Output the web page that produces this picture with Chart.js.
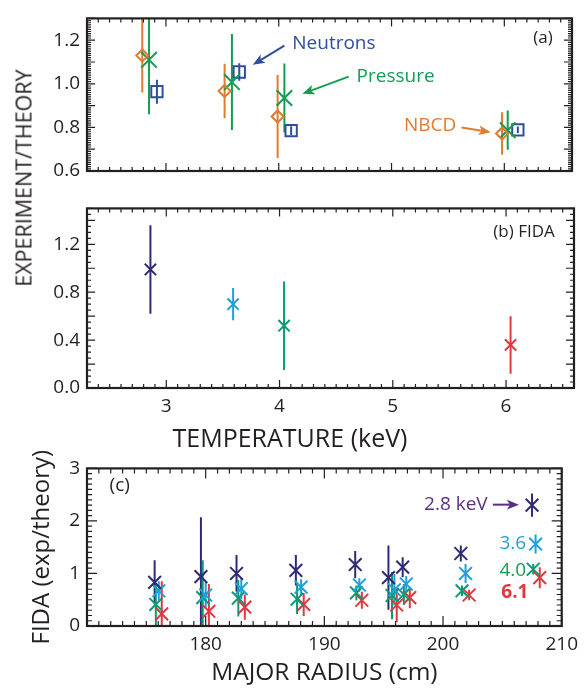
<!DOCTYPE html>
<html>
<head>
<meta charset="utf-8">
<script src="https://cdn.jsdelivr.net/npm/chart.js@4.4.0/dist/chart.umd.min.js"></script>
<style>
  html, body { margin: 0; padding: 0; background: #fff; }
  #wrap { position: relative; width: 585px; height: 692px; font-family: 'Open Sans', sans-serif; }
  .panel { position: absolute; left: 0; width: 585px; }
  #boxA { top: 0; height: 190px; }
  #boxB { top: 190px; height: 260px; }
  #boxC { top: 450px; height: 242px; }
  .title { position: absolute; color: #231f20; white-space: nowrap; }
  #ytitle {
    left: 23px; top: 178px;
    transform: translate(-50%, -50%) rotate(-90deg);
    font-size: 21.5px;
  }
  #xtitle {
    left: 290px; top: 437px;
    transform: translate(-50%, -50%);
    font-size: 25px;
  }
</style>
</head>
<body>
<div id="wrap">
  <div class="panel" id="boxA"><canvas id="chartA"></canvas></div>
  <div class="panel" id="boxB"><canvas id="chartB"></canvas></div>
  <div class="panel" id="boxC"><canvas id="chartC"></canvas></div>
  <div class="title" id="ytitle">EXPERIMENT/THEORY</div>
  <div class="title" id="xtitle">TEMPERATURE (keV)</div>
</div>
<script>
'use strict';

/*********** DATA ***********/
// (a) experiment/theory against central temperature (keV)
var tempNbcd = [2.79, 3.52, 3.99, 5.98];
var ratioNbcd = [1.13, 0.967, 0.85, 0.772];
var errNbcd = [0.17, 0.125, 0.19, 0.097];

var tempPressure = [2.85, 3.585, 4.05, 6.03];
var ratioPressure = [1.11, 1.008, 0.935, 0.787];
var errPressure = [0.25, 0.22, 0.158, 0.09];

var tempNeutrons = [2.92, 3.65, 4.11, 6.12];
var ratioNeutrons = [0.964, 1.054, 0.785, 0.789];
var errNeutrons = [0.055, 0.04, 0.02, 0.015];

// (b) FIDA
var fidaTemp = [2.86, 3.59, 4.04, 6.04];
var fidaRatio = [0.99, 0.70, 0.52, 0.36];
var fidaErr = [0.37, 0.135, 0.37, 0.24];

// (c) FIDA against major radius (cm), one series per temperature
var radius28 = [175.7, 179.6, 182.6, 187.6, 192.6, 195.4, 196.6, 201.5, 207.5];
var fida28 = [0.83, 0.94, 1.0, 1.06, 1.17, 0.92, 1.12, 1.38, 2.3];
var err28 = [0.42, 1.13, 0.35, 0.29, 0.26, 0.61, 0.19, 0.15, 0.22];

var radius36 = [176.05, 180.0, 183.0, 188.04, 192.95, 195.9, 196.9, 201.9, 207.8];
var fida36 = [0.67, 0.59, 0.71, 0.74, 0.78, 0.69, 0.8, 1.0, 1.56];
var err36 = [0.18, 0.25, 0.2, 0.15, 0.13, 0.3, 0.15, 0.18, 0.18];

var radius40 = [175.8, 179.75, 182.75, 187.7, 192.7, 195.7, 196.7, 201.6, 207.6];
var fida40 = [0.41, 0.54, 0.53, 0.51, 0.63, 0.58, 0.6, 0.67, 1.08];
var err40 = [0.4, 0.71, 0.35, 0.28, 0.14, 0.45, 0.2, 0.1, 0.1];

var radius61 = [176.3, 180.27, 183.3, 188.26, 193.16, 196.1, 197.2, 202.2, 208.15];
var fida61 = [0.23, 0.28, 0.36, 0.41, 0.49, 0.40, 0.54, 0.59, 0.92];
var err61 = [0.62, 0.52, 0.24, 0.22, 0.16, 0.33, 0.2, 0.1, 0.2];

// tick labels
var tempTicks = [3, 4, 5, 6];
var ratioTicksA = [0.6, 0.8, 1.0, 1.2];
var ratioTicksB = [0.0, 0.4, 0.8, 1.2];
var radiusTicks = [180, 190, 200, 210];
var fidaTicks = [0, 1, 2, 3];

/*********** STYLE ***********/
var ink = '#231f20';
var orange = '#e07b32';
var green = '#119e52';
var blue = '#2f4f9b';
var navy = '#2f2a78';
var cyan = '#1ea0dc';
var teal = '#0b9a72';
var red = '#e2373f';
var purple = '#5c2e83';
var fontFamily = "'Open Sans', sans-serif";

Chart.defaults.font.family = fontFamily;
Chart.defaults.color = ink;

/*********** PLUGINS ***********/
// vertical error bars, read from dataset.errorBars
var errorBarPlugin = {
  id: 'errorBars',
  beforeDatasetsDraw: function(chart) {
    var ctx = chart.ctx;
    var area = chart.chartArea;
    var xs = chart.scales.x;
    var ys = chart.scales.y;
    ctx.save();
    ctx.beginPath();
    ctx.rect(area.left, area.top, area.right - area.left, area.bottom - area.top);
    ctx.clip();
    chart.data.datasets.forEach(function(ds) {
      if (!ds.errorBars) {
        return;
      }
      ctx.strokeStyle = ds.borderColor;
      ctx.lineWidth = 2;
      ds.data.forEach(function(p, i) {
        var px = xs.getPixelForValue(p.x);
        ctx.beginPath();
        ctx.moveTo(px, ys.getPixelForValue(p.y - ds.errorBars[i]));
        ctx.lineTo(px, ys.getPixelForValue(p.y + ds.errorBars[i]));
        ctx.stroke();
      });
    });
    ctx.restore();
  }
};

// box frame with inward ticks on all four sides
var framePlugin = {
  id: 'frameTicks',
  afterDraw: function(chart, args, opts) {
    var ctx = chart.ctx;
    var a = chart.chartArea;
    var xs = chart.scales.x;
    var ys = chart.scales.y;
    ctx.save();
    ctx.strokeStyle = ink;
    ctx.lineWidth = 1.2;
    eachTick(xs.min, xs.max, opts.xMinor, opts.xMajor, function(v, major) {
      var px = xs.getPixelForValue(v);
      var len = major ? opts.majorLen : opts.minorLen;
      ctx.beginPath();
      ctx.moveTo(px, a.bottom);
      ctx.lineTo(px, a.bottom - len);
      ctx.moveTo(px, a.top);
      ctx.lineTo(px, a.top + len);
      ctx.stroke();
    });
    eachTick(ys.min, ys.max, opts.yMinor, opts.yMajor, function(v, major) {
      var py = ys.getPixelForValue(v);
      var len = major ? opts.majorLen : opts.minorLen;
      ctx.beginPath();
      ctx.moveTo(a.left, py);
      ctx.lineTo(a.left + len, py);
      ctx.moveTo(a.right, py);
      ctx.lineTo(a.right - len, py);
      ctx.stroke();
    });
    ctx.lineWidth = 2.2;
    ctx.strokeRect(a.left, a.top, a.right - a.left, a.bottom - a.top);
    ctx.restore();
  }
};

function eachTick(min, max, minor, major, fn) {
  var start = Math.ceil(min / minor - 1e-6);
  for (var i = start; i * minor <= max + 1e-9; i++) {
    var v = i * minor;
    var r = v / major;
    fn(v, Math.abs(r - Math.round(r)) < 1e-6);
  }
}

// text labels and arrows placed in data units
var notesPlugin = {
  id: 'notes',
  afterDraw: function(chart, args, opts) {
    var ctx = chart.ctx;
    var xs = chart.scales.x;
    var ys = chart.scales.y;
    ctx.save();
    (opts.arrows || []).forEach(function(ar) {
      var x1 = xs.getPixelForValue(ar.x1);
      var y1 = ys.getPixelForValue(ar.y1);
      var x2 = xs.getPixelForValue(ar.x2);
      var y2 = ys.getPixelForValue(ar.y2);
      var ang = Math.atan2(y2 - y1, x2 - x1);
      var head = 13;
      ctx.strokeStyle = ar.color;
      ctx.fillStyle = ar.color;
      ctx.lineWidth = 2;
      ctx.beginPath();
      ctx.moveTo(x1, y1);
      ctx.lineTo(x2 - Math.cos(ang) * head * 0.7, y2 - Math.sin(ang) * head * 0.7);
      ctx.stroke();
      ctx.beginPath();
      ctx.moveTo(x2, y2);
      ctx.lineTo(x2 - head * Math.cos(ang - 0.38), y2 - head * Math.sin(ang - 0.38));
      ctx.lineTo(x2 - head * 0.7 * Math.cos(ang), y2 - head * 0.7 * Math.sin(ang));
      ctx.lineTo(x2 - head * Math.cos(ang + 0.38), y2 - head * Math.sin(ang + 0.38));
      ctx.closePath();
      ctx.fill();
    });
    (opts.labels || []).forEach(function(lb) {
      ctx.fillStyle = lb.color;
      ctx.font = (lb.bold ? 'bold ' : '') + lb.size + 'px ' + fontFamily;
      ctx.textAlign = lb.align;
      ctx.textBaseline = 'middle';
      ctx.fillText(lb.text, xs.getPixelForValue(lb.x), ys.getPixelForValue(lb.y));
    });
    ctx.restore();
  }
};

/*********** HELPERS ***********/
function points(xs, ys) {
  return xs.map(function(x, i) {
    return {x: x, y: ys[i]};
  });
}

function series(label, xs, ys, errs, color, style, size) {
  return {
    label: label,
    data: points(xs, ys),
    errorBars: errs,
    borderColor: color,
    backgroundColor: 'rgba(0,0,0,0)',
    pointStyle: style,
    pointRadius: size,
    pointBorderWidth: 2,
    pointBorderColor: color,
    pointBackgroundColor: 'rgba(0,0,0,0)',
    pointHoverRadius: size
  };
}

function fixedTicks(list) {
  return function(scale) {
    scale.ticks = list.map(function(v) {
      return {value: v};
    });
  };
}

function axis(min, max, tickList, decimals, fitSize, showTicks) {
  return {
    type: 'linear',
    min: min,
    max: max,
    afterBuildTicks: fixedTicks(tickList),
    afterFit: function(scale) {
      if (scale.isHorizontal()) {
        scale.height = fitSize;
      } else {
        scale.width = fitSize;
      }
    },
    grid: {display: false, drawTicks: false},
    border: {display: false},
    ticks: {
      display: showTicks,
      padding: 7,
      maxRotation: 0,
      autoSkip: false,
      font: {size: 19},
      color: ink,
      callback: function(v) {
        return Number(v).toFixed(decimals);
      }
    }
  };
}

function makeChart(id, datasets, scales, padding, frame, notes) {
  return new Chart(document.getElementById(id).getContext('2d'), {
    type: 'scatter',
    data: {datasets: datasets},
    options: {
      responsive: true,
      maintainAspectRatio: false,
      animation: false,
      layout: {padding: padding},
      scales: scales,
      plugins: {
        legend: {display: false},
        tooltip: {enabled: false},
        frameTicks: frame,
        notes: notes
      }
    },
    plugins: [errorBarPlugin, framePlugin, notesPlugin]
  });
}

/*********** CHARTS ***********/
function setup() {
  // (a)
  var xA = axis(2.3, 6.6, tempTicks, 0, 0, false);
  xA.display = false;
  makeChart('chartA', [
    series('NBCD', tempNbcd, ratioNbcd, errNbcd, orange, 'rectRot', 6),
    series('Pressure', tempPressure, ratioPressure, errPressure, green, 'crossRot', 11),
    series('Neutrons', tempNeutrons, ratioNeutrons, errNeutrons, blue, 'rect', 8)
  ], {
    x: xA,
    y: axis(0.6, 1.3, ratioTicksA, 1, 87, true)
  }, {left: 0, right: 11, top: 8, bottom: 19},
  {xMinor: 0.1, xMajor: 1, yMinor: 0.01, yMajor: 0.1, majorLen: 8, minorLen: 4},
  {
    labels: [
      {text: 'Neutrons', x: 4.12, y: 1.186, color: blue, align: 'left', size: 19},
      {text: 'Pressure', x: 4.69, y: 1.033, color: green, align: 'left', size: 19},
      {text: 'NBCD', x: 5.11, y: 0.806, color: orange, align: 'left', size: 19},
      {text: '(a)', x: 6.43, y: 1.21, color: ink, align: 'right', size: 17}
    ],
    arrows: [
      {x1: 4.05, y1: 1.175, x2: 3.77, y2: 1.087, color: blue},
      {x1: 4.62, y1: 1.033, x2: 4.21, y2: 0.954, color: green},
      {x1: 5.62, y1: 0.8, x2: 5.88, y2: 0.778, color: orange}
    ]
  });

  // (b)
  var fidaColors = [navy, cyan, teal, red];
  var fidaSets = fidaTemp.map(function(t, i) {
    return series('FIDA', [t], [fidaRatio[i]], [fidaErr[i]], fidaColors[i], 'crossRot', 8);
  });
  makeChart('chartB', fidaSets, {
    x: axis(2.3, 6.6, tempTicks, 0, 62, true),
    y: axis(0, 1.5, ratioTicksB, 1, 87, true)
  }, {left: 0, right: 11, top: 16, bottom: 0},
  {xMinor: 0.1, xMajor: 1, yMinor: 0.05, yMajor: 0.2, majorLen: 8, minorLen: 4},
  {
    labels: [
      {text: '(b) FIDA', x: 6.43, y: 1.30, color: ink, align: 'right', size: 17}
    ]
  });

  // (c)
  var xC = axis(170, 210, radiusTicks, 0, 66, true);
  xC.title = {display: true, text: 'MAJOR RADIUS (cm)', font: {size: 24.5}, color: ink, padding: {top: 0, bottom: 4}};
  var yC = axis(0, 3, fidaTicks, 0, 62, true);
  yC.title = {display: true, text: 'FIDA (exp/theory)', font: {size: 24}, color: ink, padding: {top: 3, bottom: 0}};
  makeChart('chartC', [
    series('2.8 keV', radius28, fida28, err28, navy, 'crossRot', 9),
    series('3.6 keV', radius36, fida36, err36, cyan, 'crossRot', 9),
    series('4.0 keV', radius40, fida40, err40, teal, 'crossRot', 9),
    series('6.1 keV', radius61, fida61, err61, red, 'crossRot', 9)
  ], {
    x: xC,
    y: yC
  }, {left: 25, right: 12, top: 13, bottom: 0},
  {xMinor: 1, xMajor: 10, yMinor: 0.1, yMajor: 1, majorLen: 10, minorLen: 5},
  {
    labels: [
      {text: '(c)', x: 171.9, y: 2.67, color: ink, align: 'left', size: 19},
      {text: '2.8 keV', x: 198.4, y: 2.31, color: purple, align: 'left', size: 19},
      {text: '3.6', x: 207.0, y: 1.56, color: cyan, align: 'right', size: 19},
      {text: '4.0', x: 207.0, y: 1.06, color: '#14a050', align: 'right', size: 19},
      {text: '6.1', x: 207.2, y: 0.63, color: red, align: 'right', size: 19, bold: true}
    ],
    arrows: [
      {x1: 204.2, y1: 2.31, x2: 206.4, y2: 2.31, color: purple}
    ]
  });
}

setup();
</script>
</body>
</html>
